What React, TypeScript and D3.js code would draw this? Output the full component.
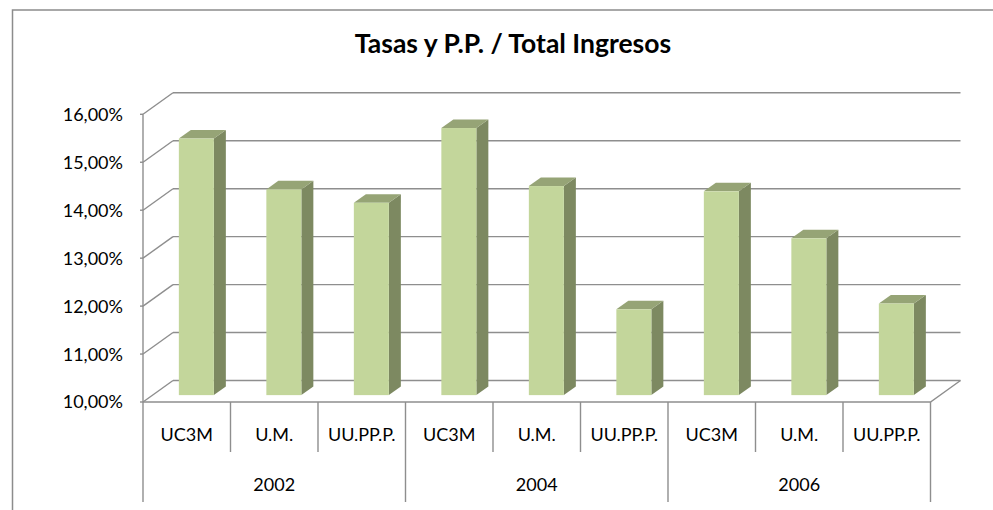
import * as d3 from "d3";

const years = ["2002", "2004", "2006"];
const universities = ["UC3M", "U.M.", "UU.PP.P."];
const values2002 = [15.35, 14.29, 14.01];
const values2004 = [15.57, 14.36, 11.79];
const values2006 = [14.25, 13.27, 11.91];
const yTicks = [10, 11, 12, 13, 14, 15, 16];

const W = 993;
const H = 510;
const FONT = "Lato, 'Open Sans', sans-serif";

// 3D depth of the plot box (back wall offset)
const DX = 30;
const DY = -21.5;
const F0 = 0.32; // bar front depth fraction
const F1 = 0.72; // bar back depth fraction

const rows = [values2002, values2004, values2006].flatMap((vals, gi) =>
  vals.map((v, i) => ({
    key: `${years[gi]}-${universities[i]}`,
    year: years[gi],
    uni: universities[i],
    value: v,
  }))
);

const x = d3
  .scaleBand<string>()
  .domain(rows.map((d) => d.key))
  .range([143, 930.5])
  .paddingInner(0)
  .paddingOuter(0);

const y = d3.scaleLinear().domain([10, 16]).range([402, 114.3]);

const App = () => {
  const bw = x.bandwidth();
  const barW = bw * 0.4;
  const x0 = x.range()[0];
  const x1 = x.range()[1];
  const grid = "#8e8e8e";

  return (
    <svg
      width={W}
      height={H}
      style={{ position: "absolute", left: 0, top: 0, background: "#fff" }}
    >
      {/* outer border */}
      <path d={`M12.5,${H} V10 H${W}`} fill="none" stroke="#8c8c8c" strokeWidth={1.5} />

      <text
        x={513}
        y={53}
        textAnchor="middle"
        fontFamily={FONT}
        fontWeight="bold"
        fontSize={26.5}
        fill="#000"
      >
        Tasas y P.P. / Total Ingresos
      </text>

      {/* back wall gridlines + side wall diagonals */}
      {yTicks.map((t) => (
        <g key={t}>
          <line x1={x0 + DX} x2={x1 + DX} y1={y(t) + DY} y2={y(t) + DY} stroke={grid} strokeWidth={1.4} />
          <line x1={x0} x2={x0 + DX} y1={y(t)} y2={y(t) + DY} stroke={grid} strokeWidth={1.4} />
          <line x1={x0 - 3} x2={x0} y1={y(t)} y2={y(t)} stroke={grid} strokeWidth={1.4} />
          <text
            x={123}
            y={y(t)}
            dy="0.36em"
            textAnchor="end"
            fontFamily={FONT}
            fontSize={18}
            fill="#000"
          >
            {t.toFixed(2).replace(".", ",")}%
          </text>
        </g>
      ))}

      {/* front axis and floor */}
      <line x1={x0} x2={x0} y1={y(16)} y2={y(10)} stroke={grid} strokeWidth={1.4} />
      <path
        d={`M${x0},${y(10)} H${x1} L${x1 + DX},${y(10) + DY}`}
        fill="none"
        stroke={grid}
        strokeWidth={1.4}
      />

      {/* bars */}
      {rows.map((d) => {
        const cx = (x(d.key) ?? 0) + bw / 2 + F0 * DX;
        const l = cx - barW / 2;
        const r = cx + barW / 2;
        const yb = y(10) + F0 * DY;
        const yt = y(d.value) + F0 * DY;
        const ox = (F1 - F0) * DX;
        const oy = (F1 - F0) * DY;
        return (
          <g key={d.key}>
            <path
              d={`M${r},${yt} L${r + ox},${yt + oy} V${yb + oy} L${r},${yb} Z`}
              fill="#7d8961"
            />
            <path
              d={`M${l},${yt} L${l + ox},${yt + oy} H${r + ox} L${r},${yt} Z`}
              fill="#96a476"
            />
            <rect x={l} y={yt} width={barW} height={yb - yt} fill="#c3d69b" />
          </g>
        );
      })}

      {/* category axis */}
      {rows.map((d, i) => {
        const xl = x(d.key) ?? 0;
        const isGroup = i % 3 === 0;
        return (
          <g key={`c-${d.key}`}>
            <line
              x1={xl}
              x2={xl}
              y1={y(10)}
              y2={isGroup ? 502 : 452}
              stroke={grid}
              strokeWidth={1.4}
            />
            <text
              x={xl + bw / 2}
              y={435}
              dy="0.36em"
              textAnchor="middle"
              fontFamily={FONT}
              fontSize={18}
              fill="#000"
            >
              {d.uni}
            </text>
          </g>
        );
      })}
      <line x1={x1} x2={x1} y1={y(10)} y2={502} stroke={grid} strokeWidth={1.4} />
      {years.map((yr, gi) => {
        const xs = x(rows[gi * 3].key) ?? 0;
        return (
          <text
            key={yr}
            x={xs + (bw * 3) / 2}
            y={485}
            dy="0.36em"
            textAnchor="middle"
            fontFamily={FONT}
            fontSize={18}
            fill="#000"
          >
            {yr}
          </text>
        );
      })}
    </svg>
  );
};

export default App;
